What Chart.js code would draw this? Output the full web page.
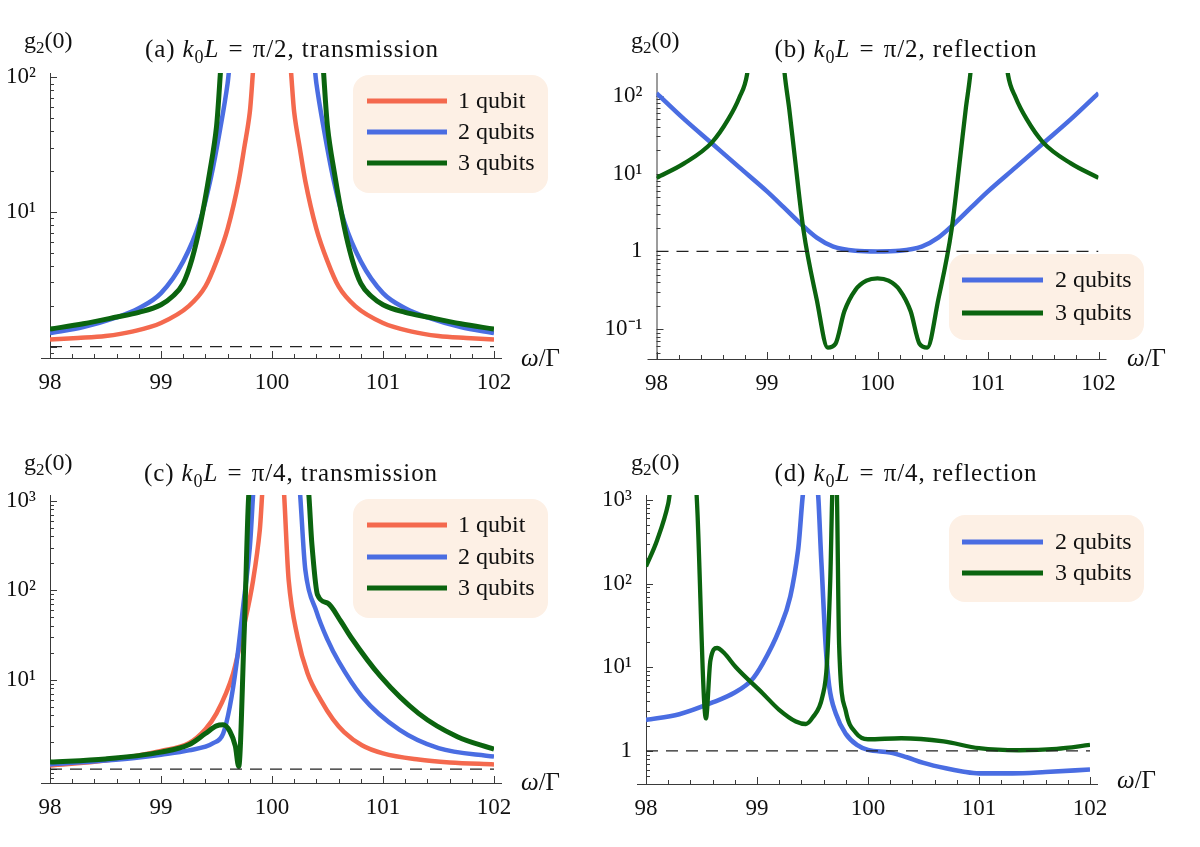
<!DOCTYPE html>
<html>
<head>
<meta charset="utf-8">
<script src="https://cdn.jsdelivr.net/npm/chart.js@4.4.0/dist/chart.umd.min.js"></script>
<style>
  html, body { margin: 0; padding: 0; background: #fff; }
  #wrap { position: relative; width: 1200px; height: 847px; }
  #wrap canvas { position: absolute; }
</style>
</head>
<body>
<div id="wrap">
  <canvas id="pa" width="600" height="423" style="left:0;top:0"></canvas>
  <canvas id="pb" width="600" height="423" style="left:600px;top:0"></canvas>
  <canvas id="pc" width="600" height="424" style="left:0;top:423px"></canvas>
  <canvas id="pd" width="600" height="424" style="left:600px;top:423px"></canvas>
</div>
<script>
// ---- data (omega/Gamma, g2(0)) ----
const xTicks = [98, 99, 100, 101, 102];
const refX = [98, 102];
const refY = [1, 1];

// (a) k0L = pi/2, transmission
const aX1 = [98, 98.25, 98.5, 98.75, 99, 99.25, 99.4, 99.5, 99.6, 99.7, 99.75, 99.8, 99.85, 100.15, 100.2, 100.25, 100.3, 100.4, 100.5, 100.6, 100.75, 101, 101.25, 101.5, 101.75, 102];
const aY1 = [1.13, 1.16, 1.2, 1.3, 1.5, 2.0, 2.8, 4.3, 7.5, 17, 30, 55, 150, 150, 55, 30, 17, 7.5, 4.3, 2.8, 2.0, 1.5, 1.3, 1.2, 1.16, 1.13];
const aX2 = [98, 98.3, 98.6, 98.8, 99, 99.2, 99.35, 99.45, 99.53, 99.6, 99.65, 100.35, 100.4, 100.47, 100.55, 100.65, 100.8, 101, 101.2, 101.4, 101.7, 102];
const aY2 = [1.26, 1.4, 1.65, 1.93, 2.5, 4.3, 8.5, 18, 40, 90, 200, 200, 90, 40, 18, 8.5, 4.3, 2.5, 1.93, 1.65, 1.4, 1.26];
const aX3 = [98, 98.3, 98.6, 98.8, 99, 99.1, 99.2, 99.28, 99.35, 99.44, 99.5, 99.57, 100.43, 100.5, 100.56, 100.65, 100.72, 100.8, 100.9, 101, 101.2, 101.4, 101.7, 102];
const aY3 = [1.35, 1.48, 1.66, 1.8, 2.05, 2.35, 2.95, 4.5, 7.8, 20, 43, 200, 200, 43, 20, 7.8, 4.5, 2.95, 2.35, 2.05, 1.8, 1.66, 1.48, 1.35];
const aTicks = [10, 100];
const aTickLabels = ['10¹', '10²'];

// (b) k0L = pi/2, reflection
const bX2 = [98, 98.25, 98.5, 98.75, 99, 99.15, 99.3, 99.45, 99.6, 99.8, 100, 100.2, 100.4, 100.55, 100.7, 100.85, 101, 101.25, 101.5, 101.75, 102];
const bY2 = [108, 50, 24.5, 12, 5.9, 3.7, 2.3, 1.5, 1.15, 1.02, 1.0, 1.02, 1.15, 1.5, 2.3, 3.7, 5.9, 12, 24.5, 50, 108];
const bX3 = [98, 98.25, 98.5, 98.65, 98.75, 98.82, 98.86, 99.13, 99.16, 99.2, 99.25, 99.33, 99.45, 99.55, 99.62, 99.7, 99.8, 99.9, 100, 100.1, 100.2, 100.3, 100.38, 100.45, 100.55, 100.67, 100.75, 100.8, 100.84, 100.87, 101.14, 101.18, 101.25, 101.35, 101.5, 101.75, 102];
const bY3 = [8.8, 13.5, 25, 50, 95, 190, 600, 600, 190, 70, 17, 1.88, 0.24, 0.058, 0.065, 0.17, 0.32, 0.42, 0.45, 0.42, 0.32, 0.17, 0.065, 0.058, 0.24, 1.88, 17, 70, 190, 600, 600, 190, 95, 50, 25, 13.5, 8.8];
const bTicks = [0.1, 1, 10, 100];
const bTickLabels = ['10⁻¹', '1', '10¹', '10²'];

// (c) k0L = pi/4, transmission
const cX1 = [98, 98.5, 99, 99.25, 99.4, 99.5, 99.65, 99.74, 99.83, 99.89, 99.93, 100.09, 100.15, 100.23, 100.32, 100.44, 100.55, 100.65, 100.81, 101, 101.32, 101.6, 102];
const cY1 = [1.1, 1.25, 1.6, 1.95, 2.8, 4.2, 11.8, 36, 130, 470, 2000, 2000, 130, 30, 11.8, 5.9, 3.6, 2.6, 1.85, 1.5, 1.28, 1.19, 1.13];
const cX2 = [98, 98.5, 98.8, 99, 99.25, 99.47, 99.56, 99.62, 99.68, 99.74, 99.8, 99.85, 100.23, 100.3, 100.4, 100.5, 100.6, 100.81, 101.15, 101.5, 102];
const cY2 = [1.13, 1.25, 1.35, 1.45, 1.62, 1.95, 2.5, 5.0, 15, 66, 300, 2000, 2000, 170, 58, 28, 16, 6.5, 2.75, 1.72, 1.38];
const cX3 = [98, 98.5, 99, 99.25, 99.4, 99.5, 99.56, 99.62, 99.67, 99.7, 99.75, 99.8, 100.32, 100.36, 100.41, 100.5, 100.62, 100.71, 100.98, 101.32, 101.67, 102];
const cY3 = [1.2, 1.3, 1.55, 1.87, 2.5, 3.05, 3.13, 2.65, 1.8, 1.07, 35, 1500, 1500, 320, 89, 72, 45, 30, 10.8, 4.2, 2.3, 1.67];
const cTicks = [10, 100, 1000];
const cTickLabels = ['10¹', '10²', '10³'];

// (d) k0L = pi/4, reflection
const dX2 = [98, 98.3, 98.6, 98.8, 98.95, 99.05, 99.2, 99.3, 99.37, 99.43, 99.54, 99.58, 99.62, 99.65, 99.71, 99.8, 99.9, 100, 100.2, 100.35, 100.5, 100.7, 100.85, 101, 101.3, 101.6, 102];
const dY2 = [2.35, 2.75, 3.8, 5.0, 7.0, 11, 28, 70, 250, 1500, 1500, 180, 17, 6, 2.8, 1.6, 1.18, 1.03, 0.96, 0.84, 0.72, 0.62, 0.57, 0.54, 0.54, 0.56, 0.6];
const dX3 = [98, 98.1, 98.2, 98.24, 98.44, 98.54, 98.58, 98.64, 98.7, 98.81, 99.05, 99.2, 99.35, 99.44, 99.5, 99.59, 99.63, 99.66, 99.685, 99.715, 99.74, 99.8, 99.89, 100, 100.3, 100.68, 101, 101.36, 101.7, 102];
const dY3 = [160, 330, 900, 1800, 1800, 2.45, 12, 17, 15, 10, 4.9, 3.1, 2.25, 2.1, 2.5, 4.5, 11, 110, 1800, 1800, 18, 3.0, 1.65, 1.38, 1.42, 1.3, 1.08, 1.02, 1.06, 1.18];
const dTicks = [1, 10, 100, 1000];
const dTickLabels = ['1', '10¹', '10²', '10³'];

// ---- styling ----
// pick the first serif family that is really installed
function pickSerif() {
  const c = document.createElement('canvas').getContext('2d');
  const probe = 'mmmmmwwwiiilll 1234567890 qubits';
  const widthWith = f => { c.font = '40px ' + f; return c.measureText(probe).width; };
  const mono = widthWith('monospace');
  const names = ['Liberation Serif', 'Tinos', 'Times New Roman', 'Noto Serif', 'DejaVu Serif'];
  for (const n of names) {
    if (Math.abs(widthWith('"' + n + '", monospace') - mono) > 0.5) return '"' + n + '", serif';
  }
  return 'serif';
}
const SERIF = pickSerif();
const RED = '#f4694e';
const BLUE = '#4a6de2';
const GREEN = '#0b640f';
const LEGEND_BG = '#fdf0e5';

function pts(xs, ys) {
  return xs.map((x, i) => ({ x: x, y: ys[i] }));
}

function curve(label, xs, ys, color, width, order) {
  return {
    label: label, data: pts(xs, ys), borderColor: color, borderWidth: width,
    pointRadius: 0, fill: false, cubicInterpolationMode: 'monotone', order: order,
    inLegend: true
  };
}

function refLine() {
  return {
    label: 'g2 = 1', data: pts(refX, refY), borderColor: '#222', borderWidth: 1.3,
    borderDash: [12, 8], pointRadius: 0, order: 0, inLegend: false
  };
}

// draw text made of pieces: [text, kind] with kind '', 'i', 'sub'
function drawRich(ctx, segs, x, y, size, align, target) {
  const fontFor = k => (k === 'i' ? 'italic ' : '') + (k === 'sub' ? Math.round(size * 0.7) : size) + 'px ' + SERIF;
  let natural = 0, chars = 0;
  segs.forEach(([t, k]) => { ctx.font = fontFor(k); natural += ctx.measureText(t).width; chars += t.length; });
  let ls = 0;
  if (target && chars > 1) ls = Math.min(0.9, Math.max(0, (target - natural) / chars));
  const total = natural + ls * chars;
  let cx = align === 'center' ? x - total / 2 : x;
  ctx.textAlign = 'left';
  ctx.textBaseline = 'alphabetic';
  ctx.fillStyle = '#111';
  segs.forEach(([t, k]) => {
    ctx.font = fontFor(k);
    const w = ctx.measureText(t).width + ls * t.length;
    ctx.letterSpacing = ls.toFixed(2) + 'px';
    ctx.fillText(t, cx, y + (k === 'sub' ? size * 0.22 : 0));
    ctx.letterSpacing = '0px';
    cx += w;
  });
}

const decoPlugin = {
  id: 'deco',
  beforeDatasetsDraw(chart) {
    const { ctx, chartArea: a, scales: { x, y } } = chart;
    ctx.save();
    ctx.strokeStyle = '#3a3a3a';
    ctx.lineWidth = 1;
    ctx.beginPath();
    ctx.moveTo(a.left - 9, a.bottom + 0.5);
    ctx.lineTo(a.right + 8, a.bottom + 0.5);
    ctx.moveTo(a.left + 0.5, a.top);
    ctx.lineTo(a.left + 0.5, a.bottom);
    // x ticks, minor every 0.2
    for (let k = 0; k <= 20; k++) {
      const px = Math.round(x.getPixelForValue(98 + k * 0.2)) + 0.5;
      ctx.moveTo(px, a.bottom);
      ctx.lineTo(px, a.bottom - (k % 5 === 0 ? 7 : 4));
    }
    // y ticks, minor at 2..9 per decade
    const lo = Math.floor(Math.log10(y.min)), hi = Math.ceil(Math.log10(y.max));
    for (let e = lo; e <= hi; e++) {
      for (let m = 1; m <= 9; m++) {
        const v = m * Math.pow(10, e);
        if (v < y.min || v > y.max) continue;
        const py = Math.round(y.getPixelForValue(v)) + 0.5;
        ctx.moveTo(a.left, py);
        ctx.lineTo(a.left + (m === 1 ? 7 : 4), py);
      }
    }
    ctx.stroke();
    ctx.restore();
  },
  afterDatasetsDraw(chart, args, opts) {
    const ctx = chart.ctx;
    const lg = opts.legend;
    const items = chart.data.datasets.filter(d => d.inLegend);
    ctx.save();
    ctx.fillStyle = LEGEND_BG;
    ctx.beginPath();
    ctx.roundRect(lg.box[0], lg.box[1], lg.box[2] - lg.box[0], lg.box[3] - lg.box[1], 16);
    ctx.fill();
    items.forEach((d, i) => {
      const ry = lg.rows[i];
      ctx.strokeStyle = d.borderColor;
      ctx.lineWidth = 5;
      ctx.beginPath();
      ctx.moveTo(lg.line[0], ry);
      ctx.lineTo(lg.line[1], ry);
      ctx.stroke();
      ctx.fillStyle = '#111';
      ctx.font = '24px ' + SERIF;
      ctx.textAlign = 'left';
      ctx.textBaseline = 'middle';
      ctx.fillText(d.label, lg.textX, ry + 1);
    });
    ctx.restore();
  },
  afterDraw(chart, args, opts) {
    const ctx = chart.ctx;
    ctx.save();
    drawRich(ctx, opts.title, opts.titlePos[0], opts.titlePos[1], 25, 'center', opts.titleWidth);
    drawRich(ctx, [['g', ''], ['2', 'sub'], ['(0)', '']], opts.yLabelPos[0], opts.yLabelPos[1], 24, 'left');
    drawRich(ctx, [['ω', 'i'], ['/Γ', '']], opts.xLabelPos[0], opts.xLabelPos[1], 25, 'left');
    ctx.restore();
  }
};

function makePanel(p) {
  const L = p.left, T = p.top;
  const area = { l: p.area[0] - L, r: p.area[1] - L, t: p.area[2] - T, b: p.area[3] - T };
  const loc = (pt) => [pt[0] - L, pt[1] - T];
  new Chart(document.getElementById(p.id), {
    type: 'line',
    data: { datasets: p.datasets },
    options: {
      responsive: false,
      animation: false,
      events: [],
      layout: { padding: { left: 0, top: area.t, right: p.w - area.r, bottom: 0 } },
      scales: {
        x: {
          type: 'linear', min: 98, max: 102,
          grid: { display: false }, border: { display: false },
          afterBuildTicks: s => { s.ticks = xTicks.map(v => ({ value: v })); },
          afterFit: s => { s.height = p.h - area.b; },
          ticks: { padding: 3, color: '#111', font: { family: SERIF, size: 23 }, maxRotation: 0,
                   callback: v => String(v) }
        },
        y: {
          type: 'logarithmic', min: p.yMin, max: p.yMax,
          grid: { display: false }, border: { display: false },
          afterBuildTicks: s => { s.ticks = p.yTicks.map(v => ({ value: v })); },
          afterFit: s => { s.width = area.l; },
          ticks: { padding: 6, color: '#111', font: { family: SERIF, size: 23 },
                   callback: (v, i) => p.yTickLabels[i] }
        }
      },
      plugins: {
        legend: { display: false },
        tooltip: { enabled: false },
        deco: {
          title: p.title,
          titlePos: loc(p.titlePos),
          titleWidth: p.titleWidth,
          yLabelPos: loc(p.yLabelPos),
          xLabelPos: loc(p.xLabelPos),
          legend: {
            box: [p.legendBox[0] - L, p.legendBox[1] - T, p.legendBox[2] - L, p.legendBox[3] - T],
            line: [p.legendLine[0] - L, p.legendLine[1] - L],
            rows: p.legendRows.map(v => v - T),
            textX: p.legendTextX - L
          }
        }
      }
    },
    plugins: [decoPlugin]
  });
}

const EQ = '\u2004=\u2004';

makePanel({
  id: 'pa', left: 0, top: 0, w: 600, h: 423,
  area: [50, 494, 73, 358], yMin: 0.824, yMax: 107.7,
  yTicks: aTicks, yTickLabels: aTickLabels,
  datasets: [
    curve('1 qubit', aX1, aY1, RED, 4.5, 3),
    curve('2 qubits', aX2, aY2, BLUE, 4.5, 2),
    curve('3 qubits', aX3, aY3, GREEN, 5, 1),
    refLine()
  ],
  title: [['(a) ', ''], ['k', 'i'], ['0', 'sub'], ['L', 'i'], [EQ + 'π/2, transmission', '']],
  titlePos: [292, 57], titleWidth: 300,
  yLabelPos: [24, 48], xLabelPos: [521, 366],
  legendBox: [353, 75, 548, 193], legendLine: [367, 447], legendRows: [101, 132, 163], legendTextX: 458
});

makePanel({
  id: 'pb', left: 600, top: 0, w: 600, h: 423,
  area: [656.5, 1098.5, 73, 359], yMin: 0.0414, yMax: 196,
  yTicks: bTicks, yTickLabels: bTickLabels,
  datasets: [
    curve('2 qubits', bX2, bY2, BLUE, 4.5, 2),
    curve('3 qubits', bX3, bY3, GREEN, 4.3, 1),
    refLine()
  ],
  title: [['(b) ', ''], ['k', 'i'], ['0', 'sub'], ['L', 'i'], [EQ + 'π/2, reflection', '']],
  titlePos: [906, 57], titleWidth: 266,
  yLabelPos: [631, 48], xLabelPos: [1127, 366],
  legendBox: [949, 254, 1144, 340], legendLine: [962, 1043], legendRows: [280, 313], legendTextX: 1055
});

makePanel({
  id: 'pc', left: 0, top: 423, w: 600, h: 424,
  area: [50, 494, 495, 783], yMin: 0.703, yMax: 1161,
  yTicks: cTicks, yTickLabels: cTickLabels,
  datasets: [
    curve('1 qubit', cX1, cY1, RED, 4.5, 3),
    curve('2 qubits', cX2, cY2, BLUE, 4.5, 2),
    curve('3 qubits', cX3, cY3, GREEN, 5, 1),
    refLine()
  ],
  title: [['(c) ', ''], ['k', 'i'], ['0', 'sub'], ['L', 'i'], [EQ + 'π/4, transmission', '']],
  titlePos: [291, 481], titleWidth: 300,
  yLabelPos: [24, 470], xLabelPos: [521, 790],
  legendBox: [353, 499, 548, 618], legendLine: [367, 447], legendRows: [525, 557, 588], legendTextX: 458
});

makePanel({
  id: 'pd', left: 600, top: 423, w: 600, h: 424,
  area: [646, 1090, 495, 784], yMin: 0.403, yMax: 1145,
  yTicks: dTicks, yTickLabels: dTickLabels,
  datasets: [
    curve('2 qubits', dX2, dY2, BLUE, 4.6, 2),
    curve('3 qubits', dX3, dY3, GREEN, 4.3, 1),
    refLine()
  ],
  title: [['(d) ', ''], ['k', 'i'], ['0', 'sub'], ['L', 'i'], [EQ + 'π/4, reflection', '']],
  titlePos: [906, 481], titleWidth: 266,
  yLabelPos: [631, 470], xLabelPos: [1117, 788],
  legendBox: [949, 515, 1144, 602], legendLine: [962, 1043], legendRows: [542, 573], legendTextX: 1055
});
</script>
</body>
</html>
